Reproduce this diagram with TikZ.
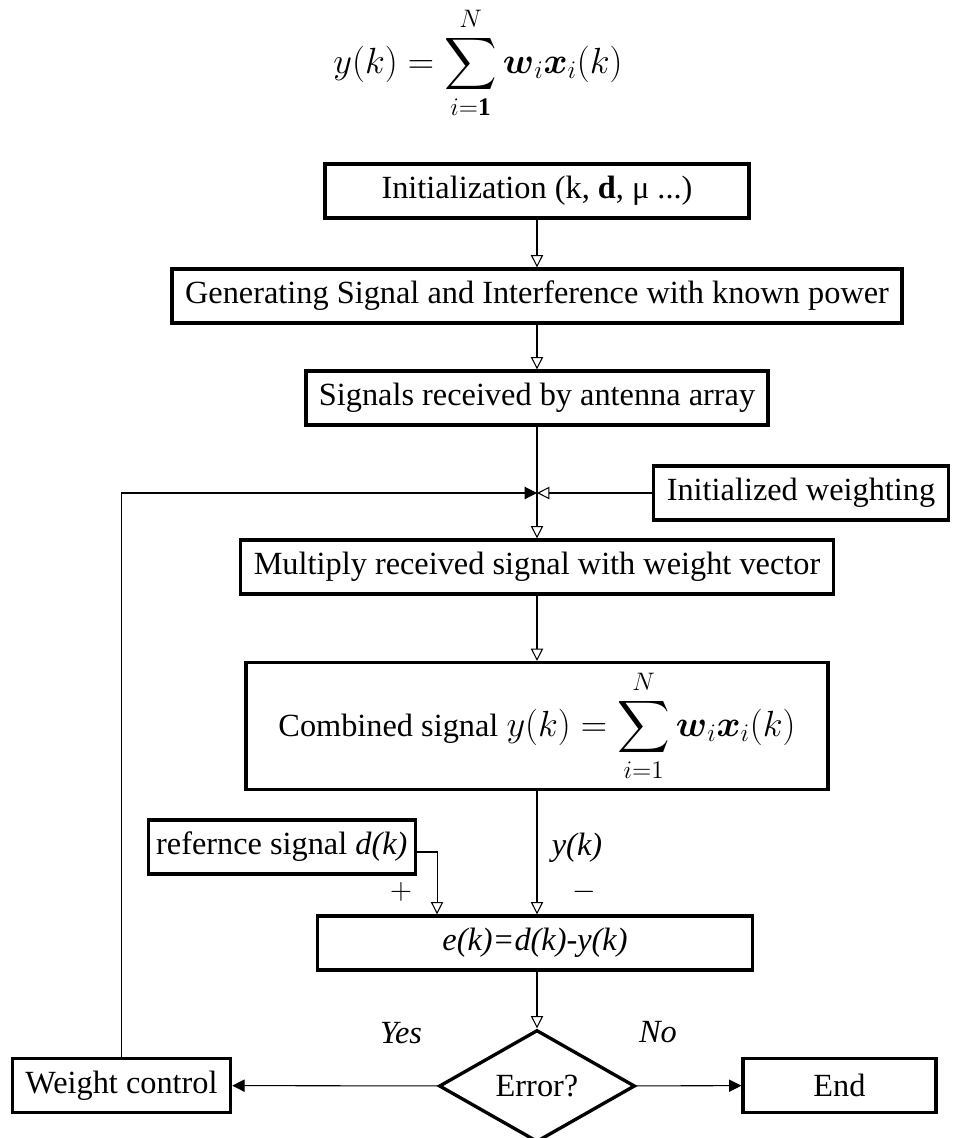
\documentclass[tikz,border=0pt]{standalone}
\usepackage{amsmath,amssymb}
\usepackage{fontspec}
\setmainfont{Liberation Serif}
\usetikzlibrary{arrows.meta,shapes.geometric}

\begin{document}
\begin{tikzpicture}[x=0.02cm,y=-0.02cm,>={Triangle[open,length=7pt,width=7pt]},
  font=\fontsize{18.4}{22}\selectfont,
  box node/.style={draw,line width=1.9pt,inner xsep=7.4pt,inner ysep=0pt,minimum height=1.08cm},
  link/.style={line width=0.6pt},
  solid tip/.style={-{Triangle[length=7pt,width=7pt]}}]
  \useasboundingbox (0,0) rectangle (956,1138);
  \node[font=\fontsize{20.74}{25}\selectfont] (top_eq) at (478,63) {$\displaystyle y(k)=\sum_{i=\mathbf{1}}^{N}\boldsymbol{w}_i\boldsymbol{x}_i(k)$};
  \node[box node,minimum width=8.48cm] (init_box) at (537,191) {Initialization (k, \textbf{d}, μ ...)};
  \node[box node] (gen_box) at (537,296) {Generating Signal and Interference with known power};
  \node[box node] (recv_box) at (537,398) {Signals received by antenna array};
  \coordinate (join_pt) at (537,493);
  \node[box node] (wt_init) at (801,493) {Initialized weighting};
  \node[box node] (mult_box) at (537,567) {Multiply received signal with weight vector};
  \node[box node,minimum width=11.64cm,minimum height=2.54cm] (comb_box) at (537,726) {Combined signal {\fontsize{20.74}{25}\selectfont$y(k)=\displaystyle\sum_{i=1}^{N}\boldsymbol{w}_i\boldsymbol{x}_i(k)$}};
  \node[box node,inner xsep=4.5pt,anchor=east] (ref_box) at (417,847) {refernce signal \textit{d(k)}};
  \node[box node,minimum width=8.7cm] (err_box) at (535,943) {\textit{e(k)=d(k)-y(k)}};
  \node[diamond,draw,line width=1.9pt,inner sep=0pt,minimum width=3.92cm,minimum height=2.24cm] (err_dia) at (537,1086) {Error?};
  \node[box node] (wt_ctrl) at (121.5,1085.5) {Weight control};
  \node[box node,minimum width=3.86cm] (end_box) at (839.5,1085.5) {End};
  % labels on the links
  \node (y_lbl) at (577,848) {\textit{y(k)}};
  \node (plus_lbl) at (401,892) {$+$};
  \node (minus_lbl) at (584,892) {$-$};
  \node (yes_lbl) at (401,1033) {\textit{Yes}};
  \node (no_lbl) at (658,1032) {\textit{No}};
  \path[link]
    (init_box) edge[->] (gen_box)
    (gen_box) edge[->] (recv_box)
    (recv_box) edge (join_pt)
    (wt_init) edge[->] (join_pt)
    (join_pt) edge[->] (mult_box)
    (mult_box) edge[->] (comb_box)
    (comb_box.south -| join_pt) edge[->] (err_box.north -| join_pt)
    (err_box.south -| join_pt) edge[->] (err_dia)
    (err_dia) edge[solid tip] (wt_ctrl)
    (err_dia) edge[solid tip] (end_box);
  \draw[link,solid tip] (wt_ctrl) |- (join_pt);
  \draw[link,->] ([yshift=-0.1cm]ref_box.east) -| ([xshift=-1.96cm]err_box.north);
\end{tikzpicture}
\end{document}
